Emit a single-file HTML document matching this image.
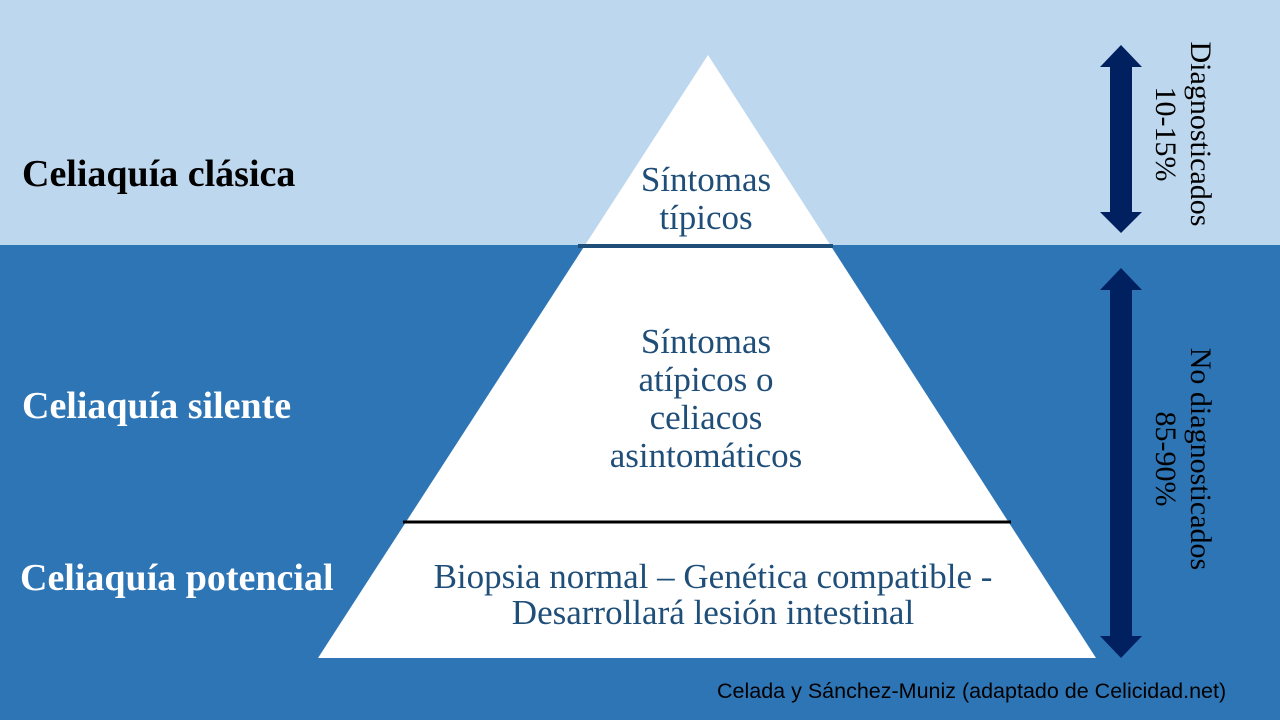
<!DOCTYPE html>
<html><head><meta charset="utf-8"><style>
body{margin:0;width:1280px;height:720px;overflow:hidden;position:relative;background:#2E75B6;font-family:"Liberation Serif",serif}
.t{position:absolute;white-space:nowrap}
.lbl{font-weight:bold;font-size:38px;color:#000;left:22px;line-height:44px}
.lbl.w{color:#fff}
.c{color:#1F4E79;font-size:35px;text-align:center;line-height:38px;transform:translateX(-50%)}
.r{position:absolute;transform:translate(-50%,-50%) rotate(90deg);font-size:30px;color:#000;text-align:center;line-height:35px;white-space:nowrap}
</style></head><body>
<div style="position:absolute;left:0;top:0;width:1280px;height:245px;background:#BDD7EE"></div>
<svg width="1280" height="720" style="position:absolute;left:0;top:0">
<polygon points="708,55 1096,658 318,658" fill="#fff"/>
<line x1="578" y1="246" x2="833" y2="246" stroke="#1F4E79" stroke-width="4"/>
<line x1="403" y1="522" x2="1011" y2="522" stroke="#000" stroke-width="3"/>
<polygon points="1121,45 1142,67 1132,67 1132,212 1142,212 1121,233 1100,212 1110,212 1110,67 1100,67" fill="#002060"/>
<polygon points="1121,268 1142,290 1132,290 1132,636 1142,636 1121,658 1100,636 1110,636 1110,290 1100,290" fill="#002060"/>
</svg>
<div class="t lbl" style="top:152px">Celiaquía clásica</div>
<div class="t lbl w" style="top:384px">Celiaquía silente</div>
<div class="t lbl w" style="left:20px;top:556px">Celiaquía potencial</div>
<div class="t c" style="left:706px;top:161px">Síntomas<br>típicos</div>
<div class="t c" style="left:706px;top:323px">Síntomas<br>atípicos o<br>celiacos<br>asintomáticos</div>
<div class="t c" style="left:713px;top:559px;line-height:36px">Biopsia normal – Genética compatible -<br>Desarrollará lesión intestinal</div>
<div class="r" style="left:1183px;top:134px">Diagnosticados<br>10-15%</div>
<div class="r" style="left:1183px;top:459px">No diagnosticados<br>85-90%</div>
<div class="t" style="left:717px;top:679px;font-family:'Liberation Sans',sans-serif;font-size:21.5px;color:#000">Celada y Sánchez-Muniz (adaptado de Celicidad.net)</div>
</body></html>
